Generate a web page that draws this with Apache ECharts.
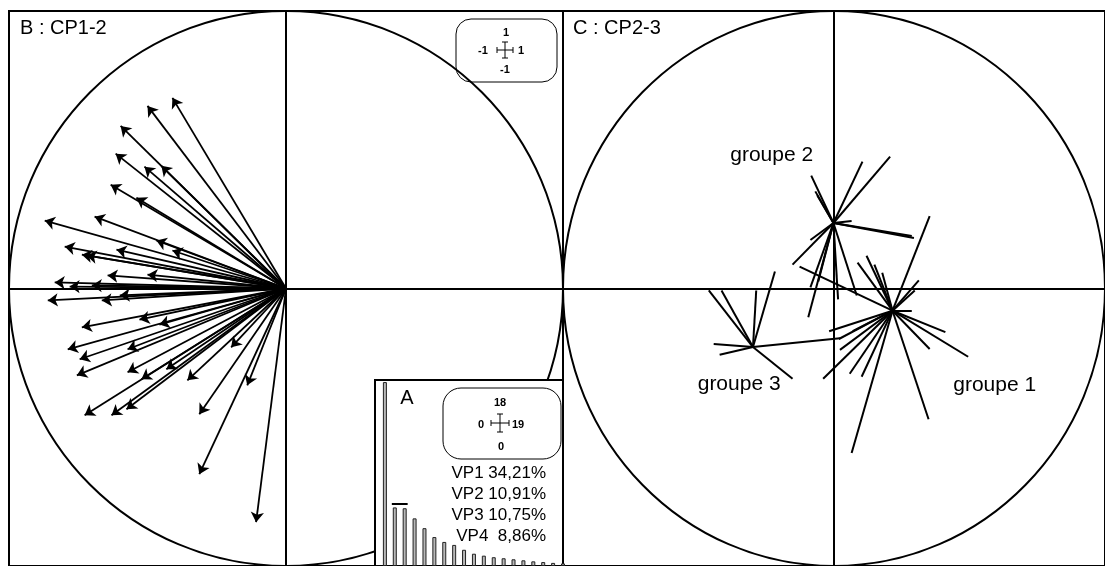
<!DOCTYPE html>
<html lang="fr">
<head>
    <meta charset="UTF-8">
    <script src="https://cdn.jsdelivr.net/npm/echarts@6/dist/echarts.min.js"></script>
    <title>ACP</title>
    <style>html,body{margin:0;padding:0;background:#fff;}</style>
</head>
<body>
<div id="main" style="width:1105px;height:566px;"></div>

<script type="text/javascript">
    // B : CP1-2 - extrémités des flèches (CP1, CP2)
    var cp12 = [
        [-0.41, 0.687], [-0.50, 0.658], [-0.597, 0.586], [-0.45, 0.442], [-0.615, 0.486],
        [-0.511, 0.439], [-0.633, 0.374], [-0.54, 0.327], [-0.871, 0.245], [-0.691, 0.259],
        [-0.468, 0.173], [-0.799, 0.151], [-0.737, 0.122], [-0.72, 0.119], [-0.612, 0.14],
        [-0.41, 0.137], [-0.644, 0.047], [-0.5, 0.05], [-0.781, 0.007], [-0.701, 0.011],
        [-0.835, 0.022], [-0.86, -0.043], [-0.665, -0.043], [-0.6, -0.025], [-0.737, -0.14],
        [-0.529, -0.112], [-0.457, -0.13], [-0.788, -0.219], [-0.745, -0.255], [-0.572, -0.219],
        [-0.755, -0.313], [-0.572, -0.302], [-0.432, -0.291], [-0.356, -0.331], [-0.198, -0.212],
        [-0.522, -0.327], [-0.727, -0.457], [-0.63, -0.457], [-0.576, -0.435], [-0.313, -0.453],
        [-0.14, -0.349], [-0.313, -0.669], [-0.108, -0.842]
    ];

    // C : CP2-3 - centres des groupes et variables de chaque groupe
    var groupeNames = ['groupe 1', 'groupe 2', 'groupe 3'];
    var groupeCentres = [[0.216, -0.080], [-0.002, 0.236], [-0.299, -0.211]];
    var groupeLabelPos = [[0.593, -0.35], [-0.23, 0.48], [-0.35, -0.346]];
    var groupe1 = [
        [-0.018, -0.154], [0.018, -0.182], [0.069, -0.154], [0.022, -0.221], [-0.04, -0.325],
        [0.058, -0.307], [0.102, -0.318], [0.065, -0.593], [0.349, -0.471], [0.353, -0.218],
        [0.411, -0.157], [0.495, -0.246], [0.287, -0.079], [0.313, 0.029], [0.298, -0.007],
        [0.353, 0.261], [0.178, 0.057], [0.149, 0.086], [0.12, 0.118], [0.087, 0.093],
        [-0.127, 0.079]
    ];
    var groupe2 = [
        [-0.084, 0.407], [-0.062, 0.336], [-0.069, 0.35], [0.105, 0.457], [0.207, 0.475],
        [0.065, 0.243], [0.295, 0.182], [0.287, 0.189], [-0.153, 0.086], [-0.087, 0.175],
        [-0.095, -0.104], [-0.087, 0.004], [-0.058, 0.025], [0.015, -0.039], [0.084, -0.025]
    ];
    var groupe3 = [
        [-0.462, -0.007], [-0.415, -0.007], [-0.287, -0.007], [-0.218, 0.061],
        [-0.444, -0.2], [-0.422, -0.239], [0.022, -0.179], [-0.153, -0.325]
    ];

    // A : valeurs propres
    var valeursPropres = [17.8, 5.67, 5.59, 4.61, 3.66, 2.8, 2.33, 2.04, 1.57, 1.19,
        1.0, 0.85, 0.75, 0.65, 0.55, 0.45, 0.38, 0.3, 0.25];
    var vpLabels = ['VP1 34,21%', 'VP2 10,91%', 'VP3 10,75%', 'VP4  8,86%'];
    var seuil = [[1.7, 6.0], [3.3, 6.0]];

    var font = '"Liberation Sans", Arial, sans-serif';
    var myChart = echarts.init(document.getElementById('main'));

    var arrows = cp12.map(function (p) { return {coords: [[0, 0], p]}; });
    var stars = [];
    [groupe1, groupe2, groupe3].forEach(function (g, i) {
        g.forEach(function (p) { stars.push({coords: [groupeCentres[i], p]}); });
    });
    var labels = groupeNames.map(function (n, i) { return {name: n, value: groupeLabelPos[i]}; });
    var bars = valeursPropres.map(function (v, i) { return [i + 1, v]; });

    function mainAxis(idx) {
        return {
            gridIndex: idx, type: 'value', min: -1, max: 1,
            axisLine: {onZero: true, lineStyle: {color: '#000', width: 2}},
            axisTick: {show: false}, axisLabel: {show: false}, splitLine: {show: false}
        };
    }
    function circle(idx) {
        return {
            type: 'custom', xAxisIndex: idx, yAxisIndex: idx, silent: true, z: 2,
            data: [[0, 0, 1]],
            renderItem: function (params, api) {
                var c = api.coord([api.value(0), api.value(1)]);
                var e = api.coord([api.value(0) + api.value(2), api.value(1) + api.value(2)]);
                return {
                    type: 'ellipse',
                    shape: {cx: c[0], cy: c[1], rx: Math.abs(e[0] - c[0]), ry: Math.abs(e[1] - c[1])},
                    style: {fill: 'none', stroke: '#000', lineWidth: 2}
                };
            }
        };
    }
    function cross(cx, cy, w, h) {
        var s = {stroke: '#000', lineWidth: 1};
        return [
            {type: 'line', z: 10, shape: {x1: cx - w, y1: cy, x2: cx + w, y2: cy}, style: s},
            {type: 'line', z: 10, shape: {x1: cx, y1: cy - h, x2: cx, y2: cy + h}, style: s},
            {type: 'line', z: 10, shape: {x1: cx - w, y1: cy - 3, x2: cx - w, y2: cy + 3}, style: s},
            {type: 'line', z: 10, shape: {x1: cx + w, y1: cy - 3, x2: cx + w, y2: cy + 3}, style: s},
            {type: 'line', z: 10, shape: {x1: cx - 3, y1: cy - h, x2: cx + 3, y2: cy - h}, style: s},
            {type: 'line', z: 10, shape: {x1: cx - 3, y1: cy + h, x2: cx + 3, y2: cy + h}, style: s}
        ];
    }
    function txt(t, x, y, size, bold, align) {
        return {type: 'text', z: 10, style: {text: t, x: x, y: y, fill: '#000',
            font: (bold ? 'bold ' : '') + size + 'px ' + font,
            align: align || 'center', verticalAlign: 'middle'}};
    }

    var graphics = [
        {type: 'rect', z: 10, shape: {x: 456, y: 19, width: 101, height: 63, r: 15},
            style: {fill: 'none', stroke: '#000', lineWidth: 1}},
        txt('1', 506, 33, 11, true), txt('-1', 483, 51, 11, true),
        txt('1', 521, 51, 11, true), txt('-1', 505, 70, 11, true),
        {type: 'rect', z: 10, shape: {x: 443, y: 388, width: 118, height: 71, r: 18},
            style: {fill: '#fff', stroke: '#000', lineWidth: 1}},
        txt('18', 500, 403, 11, true), txt('0', 481, 425, 11, true),
        txt('19', 518, 425, 11, true), txt('0', 501, 447, 11, true),
        txt('A', 407, 398, 20, false)
    ].concat(cross(505, 50, 8, 8)).concat(cross(500, 423, 9, 9));
    vpLabels.forEach(function (t, i) { graphics.push(txt(t, 546, 473 + i * 21, 17, false, 'right')); });

    var option = {
        animation: false,
        backgroundColor: '#fff',
        title: [
            {text: 'B : CP1-2', left: 20, top: 18, padding: 0,
                textStyle: {fontFamily: font, fontSize: 20, fontWeight: 'normal', color: '#000'}},
            {text: 'C : CP2-3', left: 573, top: 18, padding: 0,
                textStyle: {fontFamily: font, fontSize: 20, fontWeight: 'normal', color: '#000'}}
        ],
        grid: [
            {left: 9, top: 11, width: 554, height: 560, show: true, borderColor: '#000', borderWidth: 2},
            {left: 563, top: 11, width: 552, height: 560, show: true, borderColor: '#000', borderWidth: 2},
            {left: 375, top: 380, width: 188, height: 190, show: true, z: 5,
                backgroundColor: '#fff', borderColor: '#000', borderWidth: 2}
        ],
        xAxis: [mainAxis(0), mainAxis(1),
            {gridIndex: 2, type: 'value', min: 0, max: 19, show: false}],
        yAxis: [mainAxis(0), mainAxis(1),
            {gridIndex: 2, type: 'value', min: 0, max: 18, show: false}],
        graphic: graphics,
        series: [
            circle(0),
            circle(1),
            {
                type: 'lines', coordinateSystem: 'cartesian2d', xAxisIndex: 0, yAxisIndex: 0,
                z: 3, silent: true,
                symbol: ['none', 'arrow'], symbolSize: 10,
                lineStyle: {color: '#000', width: 1.8, opacity: 1},
                data: arrows
            },
            {
                type: 'lines', coordinateSystem: 'cartesian2d', xAxisIndex: 1, yAxisIndex: 1,
                z: 3, silent: true, symbol: 'none',
                lineStyle: {color: '#000', width: 2, opacity: 1},
                data: stars
            },
            {
                type: 'scatter', xAxisIndex: 1, yAxisIndex: 1, symbolSize: 0, silent: true,
                itemStyle: {opacity: 1, color: '#000'},
                label: {show: true, position: 'inside', formatter: '{b}', opacity: 1,
                    fontFamily: font, fontSize: 21, color: '#000'},
                data: labels
            },
            {
                type: 'bar', xAxisIndex: 2, yAxisIndex: 2, z: 6, barWidth: 4, silent: true,
                itemStyle: {color: '#b8b8b8', borderColor: '#222', borderWidth: 1},
                data: bars
            },
            {
                type: 'lines', coordinateSystem: 'cartesian2d', xAxisIndex: 2, yAxisIndex: 2,
                z: 7, silent: true, symbol: 'none',
                lineStyle: {color: '#000', width: 2, opacity: 1},
                data: [{coords: seuil}]
            }
        ]
    };
    myChart.setOption(option);
</script>
</body>
</html>
